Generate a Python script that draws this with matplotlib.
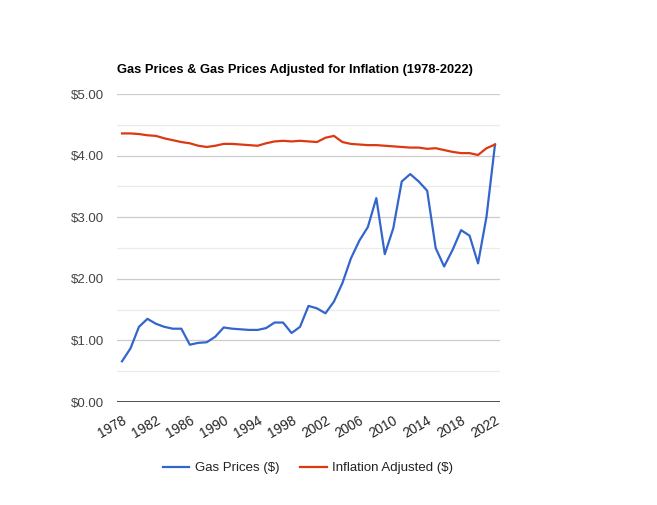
import matplotlib
matplotlib.use("Agg")
import matplotlib.pyplot as plt
from matplotlib.ticker import MultipleLocator, FuncFormatter
from matplotlib.lines import Line2D

plt.rcParams['font.family'] = ['Liberation Sans', 'DejaVu Sans']

years = list(range(1978, 2023))
gas_prices = [0.66, 0.87, 1.22, 1.35, 1.27, 1.22, 1.19, 1.19, 0.93, 0.96,
              0.97, 1.06, 1.21, 1.19, 1.18, 1.17, 1.17, 1.20, 1.29, 1.29,
              1.12, 1.22, 1.56, 1.52, 1.44, 1.63, 1.93, 2.33, 2.62, 2.84,
              3.31, 2.40, 2.82, 3.58, 3.70, 3.58, 3.43, 2.50, 2.20, 2.47,
              2.79, 2.70, 2.25, 3.01, 4.18]
inflation_adjusted = [4.36, 4.36, 4.35, 4.33, 4.32, 4.28, 4.25, 4.22, 4.20, 4.16,
                      4.14, 4.16, 4.19, 4.19, 4.18, 4.17, 4.16, 4.20, 4.23, 4.24,
                      4.23, 4.24, 4.23, 4.22, 4.29, 4.32, 4.22, 4.19, 4.18, 4.17,
                      4.17, 4.16, 4.15, 4.14, 4.13, 4.13, 4.11, 4.12, 4.09, 4.06,
                      4.04, 4.04, 4.01, 4.12, 4.18]
xtick_years = list(range(1978, 2023, 4))
title = "Gas Prices & Gas Prices Adjusted for Inflation (1978-2022)"
series_names = ["Gas Prices ($)", "Inflation Adjusted ($)"]
colors = ["#3366CC", "#DC3912"]

fig = plt.figure(figsize=(6.57, 5.05), dpi=100)
ax = fig.add_axes([117/657, 103/505, 383/657, 308/505])

ax.plot(years, gas_prices, color=colors[0], lw=1.6, solid_joinstyle='round', zorder=3)
ax.plot(years, inflation_adjusted, color=colors[1], lw=1.6, solid_joinstyle='round', zorder=3)

ax.set_ylim(0, 5)
ax.set_xlim(1977.41, 2022.59)
ax.yaxis.set_major_locator(MultipleLocator(1))
ax.yaxis.set_minor_locator(MultipleLocator(0.5))
ax.yaxis.set_major_formatter(FuncFormatter(lambda v, p: f"${v:.2f}"))
ax.grid(axis='y', which='major', color='#cccccc', lw=0.9, zorder=0)
ax.grid(axis='y', which='minor', color='#ebebeb', lw=0.9, zorder=0)
ax.axhline(0, color='#333333', lw=1.2, zorder=4)

ax.set_xticks(xtick_years)
ax.set_xticklabels([str(y) for y in xtick_years], rotation=30, ha='right',
                   rotation_mode='anchor', fontsize=9.8, color='#222222')
ax.tick_params(axis='x', length=0, pad=8)
ax.tick_params(axis='y', which='both', length=0, pad=9, labelsize=9.5, labelcolor='#444444')
for s in ax.spines.values():
    s.set_visible(False)

ax.set_title(title, loc='left', fontsize=9.3, fontweight='bold', color='#000000', pad=15)

handles = [Line2D([0], [0], color=c, lw=1.6) for c in colors]
fig.legend(handles, series_names, loc='center', bbox_to_anchor=(308/657, 1 - 468/505),
           ncol=2, frameon=False, fontsize=9.5, handlelength=2.0, columnspacing=1.6,
           handletextpad=0.4, labelcolor='#222222')

fig.savefig("out.png", dpi=100)
